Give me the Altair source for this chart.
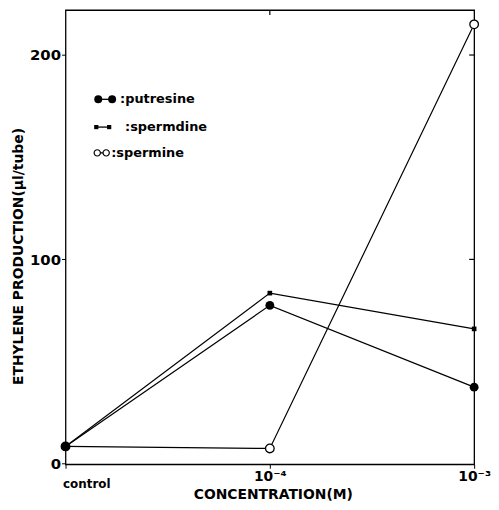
import json
import altair as alt
import pandas as pd

# ---- data ----
conc_labels = ["control", "10⁻⁴", "10⁻³"]
x_pos = [0, 1, 2]
putrescine = [8.5, 77.5, 37.5]
spermidine = [8.5, 83.5, 66.0]
spermine = [8.5, 7.5, 215.0]
series_names = ["putresine", "spermdine", "spermine"]
legend_labels = [":putresine", ":spermdine", ":spermine"]
y_ticks = [0, 100, 200]

rows = []
for name, vals in zip(series_names, [putrescine, spermidine, spermine]):
    for xv, yv in zip(x_pos, vals):
        rows.append({"x": xv, "y": yv, "series": name})
df = pd.DataFrame(rows)
leg_df = pd.DataFrame({"series": series_names, "label": legend_labels})
tick_df = pd.DataFrame({"y": [100, 200]})
top_tick_df = pd.DataFrame({"x": [1]})

W, H = 412, 458
FONT = "DejaVu Sans"

label_expr = json.dumps(conc_labels, ensure_ascii=False) + "[datum.value]"

xscale = alt.Scale(domain=[0, 2], nice=False, zero=False)
yscale = alt.Scale(domain=[-0.25, 222], nice=False, zero=False)

xenc = alt.X(
    "x:Q", scale=xscale,
    axis=alt.Axis(
        values=x_pos, labelExpr=label_expr, grid=False, domain=False,
        tickSize=4, tickColor="black", labelColor="black",
        labelFont=FONT, labelFontWeight="bold",
        labelFontSize={"condition": {"test": "datum.value == 0", "value": 12}, "value": 14},
        labelAlign={"condition": {"test": "datum.value == 0", "value": "left"}, "value": "center"},
        labelOffset={"condition": {"test": "datum.value == 0", "value": -3}, "value": 0},
        labelPadding={"condition": {"test": "datum.value == 0", "value": 10}, "value": 1},
        labelFlush=False, labelOverlap=False, labelBound=False,
        title="CONCENTRATION(M)", titleFont=FONT, titleFontWeight="bold",
        titleFontSize=14, titleColor="black", titleX=209, titleY=30,
        titleBaseline="middle", titleAlign="center",
    ),
)
yenc = alt.Y(
    "y:Q", scale=yscale,
    axis=alt.Axis(
        values=y_ticks, grid=False, domain=False, tickSize=4, tickColor="black",
        labelColor="black", labelFont=FONT, labelFontWeight="bold", labelFontSize=15,
        labelPadding=1,
        title="ETHYLENE  PRODUCTION(μl/tube)", titleFont=FONT, titleFontWeight="bold",
        titleFontSize=14, titleColor="black", titleX=-47, titleY=248,
        titleBaseline="middle", titleAlign="center", titleAngle=270,
    ),
)

base = alt.Chart(df)
lines = base.mark_line(color="black", strokeWidth=1.2).encode(x=xenc, y=yenc, detail="series:N")

pt_spermine = base.transform_filter(alt.datum.series == "spermine").mark_point(
    shape="circle", filled=True, fill="white", stroke="black", strokeWidth=1.3,
    size=75, opacity=1).encode(x="x:Q", y="y:Q")
pt_spermidine = base.transform_filter(alt.datum.series == "spermdine").mark_square(
    color="black", size=22, opacity=1).encode(x="x:Q", y="y:Q")
pt_putrescine = base.transform_filter(alt.datum.series == "putresine").mark_circle(
    color="black", size=80, opacity=1).encode(x="x:Q", y="y:Q")

# inward ticks on right and top frame
right_ticks = alt.Chart(tick_df).mark_rule(color="black", strokeWidth=1.2).encode(
    y="y:Q", x=alt.value(W - 5), x2=alt.value(W))
top_ticks = alt.Chart(top_tick_df).mark_rule(color="black", strokeWidth=1.2).encode(
    x="x:Q", y=alt.value(0), y2=alt.value(5))

# legend (inside plot)
legend_layers = []
row_y = [90, 118, 144]
sym_x = [(33, 47), (31, 44), (32, 41)]
text_x = [55, 60, 46]
for i, name in enumerate(series_names):
    lb = alt.Chart(leg_df).transform_filter(alt.datum.series == name)
    x1, x2 = sym_x[i]
    legend_layers.append(lb.mark_rule(color="black", strokeWidth=1.3).encode(
        x=alt.value(x1), x2=alt.value(x2), y=alt.value(row_y[i])))
    for sx in (x1, x2):
        if name == "putresine":
            m = lb.mark_circle(color="black", size=65, opacity=1)
        elif name == "spermdine":
            m = lb.mark_square(color="black", size=18, opacity=1)
        else:
            m = lb.mark_point(shape="circle", filled=True, fill="white", stroke="black",
                              strokeWidth=1.2, size=40, opacity=1)
        legend_layers.append(m.encode(x=alt.value(sx), y=alt.value(row_y[i])))
    legend_layers.append(lb.mark_text(
        align="left", baseline="middle", font=FONT, fontWeight="bold",
        fontSize=13, color="black").encode(
        x=alt.value(text_x[i]), y=alt.value(row_y[i]), text="label:N"))

chart = alt.layer(
    lines, pt_spermine, pt_spermidine, pt_putrescine, right_ticks, top_ticks,
    *legend_layers
).properties(
    width=W, height=H, autosize="none",
    padding={"left": 58, "top": 0, "right": 17, "bottom": 42},
    background="white",
).configure_view(stroke="black", strokeWidth=1.3)

chart.save("out.html", embed_options={"renderer": "svg", "actions": False})
